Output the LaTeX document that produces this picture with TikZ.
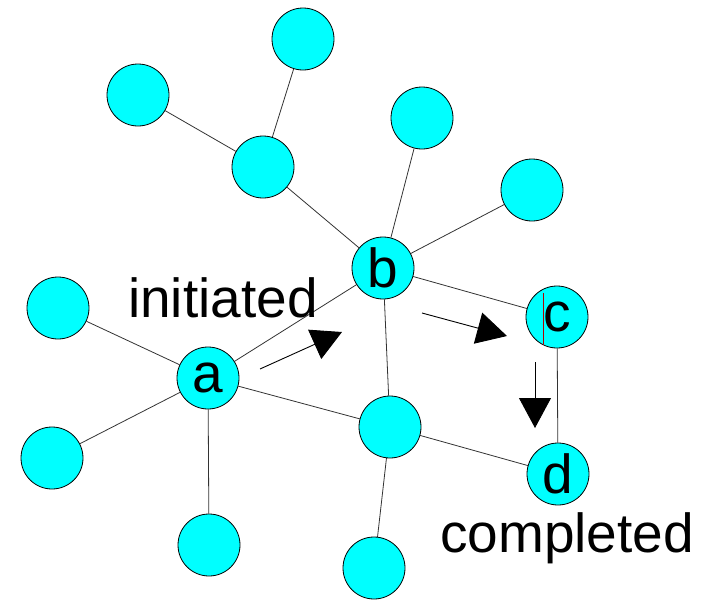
\documentclass[tikz,border=0pt]{standalone}
\usepackage{fontspec}
\setmainfont{Liberation Sans}
\usepackage{tikz}
\usetikzlibrary{arrows.meta}
\usetikzlibrary{backgrounds}
\definecolor{peerfill}{RGB}{0,255,255}

\begin{document}
\begin{tikzpicture}[x=1pt,y=-1pt,font=\fontsize{55}{62}\selectfont,
	peer/.style={circle,draw,fill=peerfill,minimum size=62pt,inner sep=0pt,line width=0.8pt},
	link/.style={draw=black!80,line width=0.8pt},
	flow/.style={line width=0.9pt,-{Triangle[length=30pt,width=32pt]}}]
	\useasboundingbox (0,0) rectangle (704,600);
	\node[peer] (top) at (303,39) {};
	\node[peer] (lt) at (138,95) {};
	\node[peer] (hub) at (263,167) {};
	\node[peer] (tr1) at (422,118) {};
	\node[peer] (tr2) at (532,190) {};
	\node[peer] (b) at (383,268) {b};
	\node[peer] (c) at (557,317) {c};
	\node[peer] (l1) at (58,308) {};
	\node[peer] (a) at (208,378) {a};
	\node[peer] (l2) at (52,458) {};
	\node[peer] (ba) at (209,545) {};
	\node[peer] (mid) at (390,427) {};
	\node[peer] (d) at (558,474) {d};
	\node[peer] (bm) at (374,568) {};
	% links
	\begin{scope}[on background layer]
	\path[link] (top) -- (hub) (lt) -- (hub) (hub) -- (b) (tr1) -- (b) (tr2) -- (b)
		(b) -- (a) (b) -- (c) (b) -- (mid) (a) -- (l1) (a) -- (l2) (a) -- (ba)
		(a) -- (mid) (mid) -- (d) (mid) -- (bm) (c) -- (d);
	\end{scope}
	\draw[red!70!black,line width=0.6pt] (543,293) -- (543,345);
	% labels
	\node[anchor=base west,inner sep=0pt] (init) at (128,317) {initiated};
	\node[anchor=base west,inner sep=0pt] (done) at (440,552) {completed};
	% messages
	\coordinate (f1s) at (260,369);
	\coordinate (f1e) at (342,332);
	\coordinate (f2s) at (422,313);
	\coordinate (f2e) at (507,336);
	\coordinate (f3s) at (535,362);
	\coordinate (f3e) at (535,428);
	\draw[flow] (f1s) -- (f1e);
	\draw[flow] (f2s) -- (f2e);
	\draw[flow] (f3s) -- (f3e);
\end{tikzpicture}
\end{document}
